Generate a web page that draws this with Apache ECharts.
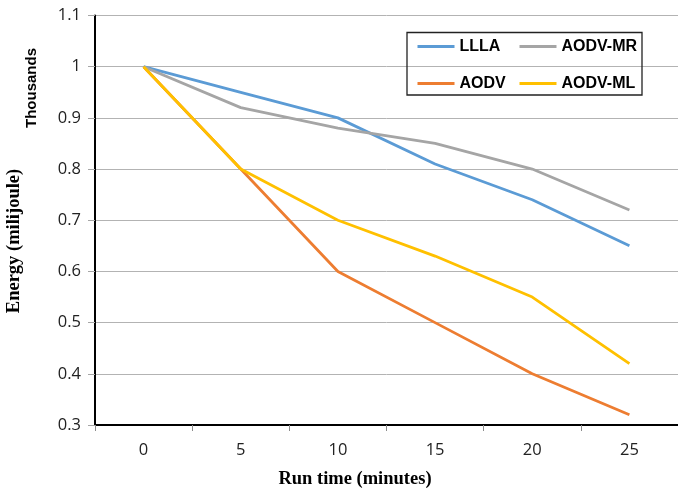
<!DOCTYPE html>
<html>
<head>
<meta charset="utf-8">
<script src="https://cdn.jsdelivr.net/npm/echarts@6/dist/echarts.min.js"></script>
<style>html,body{margin:0;padding:0;background:#fff;}#c{width:678px;height:492px;}</style>
</head>
<body>
<div id="c"></div>
<script>
const categories = ['0', '5', '10', '15', '20', '25'];
const llla = [1.0, 0.95, 0.90, 0.81, 0.74, 0.65];
const aodv = [1.0, 0.80, 0.60, 0.50, 0.40, 0.32];
const aodvMR = [1.0, 0.92, 0.88, 0.85, 0.80, 0.72];
const aodvML = [1.0, 0.80, 0.70, 0.63, 0.55, 0.42];
const yTicks = { min: 0.3, max: 1.1, interval: 0.1 };

const chart = echarts.init(document.getElementById('c'), null, { renderer: 'canvas' });
const mk = (name, data, color) => ({
  name, type: 'line', data, symbol: 'none', showSymbol: false,
  lineStyle: { color, width: 2.8 }, itemStyle: { color }, animation: false
});
const legendText = { fontFamily: 'Liberation Sans', fontWeight: 'bold', fontSize: 16, color: '#000' };
const legendBase = { orient: 'vertical', top: 38.5, itemWidth: 37, itemHeight: 14, itemGap: 21, textStyle: legendText, padding: 0, itemStyle: { opacity: 0 }, lineStyle: { width: 3 } };
chart.setOption({
  animation: false,
  grid: { left: 95, right: -5, top: 15.5, bottom: 67, containLabel: false },
  xAxis: {
    type: 'category', data: categories, boundaryGap: true,
    axisLine: { lineStyle: { color: '#000', width: 2 } },
    axisTick: { show: true, length: 6, lineStyle: { color: '#8c8c8c', width: 1 } },
    axisLabel: { fontFamily: 'Open Sans', fontSize: 16.5, color: '#222', margin: 17 },
    splitLine: { show: false }
  },
  yAxis: {
    type: 'value', min: yTicks.min, max: yTicks.max, interval: yTicks.interval,
    axisLine: { show: true, lineStyle: { color: '#000', width: 2 } },
    axisTick: { show: true, length: 7, lineStyle: { color: '#a6a6a6', width: 1 } },
    axisLabel: { fontFamily: 'Open Sans', fontSize: 16.5, color: '#222', margin: 14,
      formatter: v => String(Math.round(v * 10) / 10) },
    splitLine: { lineStyle: { color: '#b3b3b3', width: 1 } }
  },
  legend: [
    Object.assign({ data: ['LLLA', 'AODV'], left: 416 }, legendBase),
    Object.assign({ data: ['AODV-MR', 'AODV-ML'], left: 518 }, legendBase)
  ],
  graphic: [
    { type: 'rect', shape: { x: 407, y: 32.5, width: 235, height: 62.5 }, style: { fill: 'none', stroke: '#222', lineWidth: 1.3 }, z: 100 },
    { type: 'text', x: 32, y: 88, rotation: Math.PI / 2, style: { text: 'Thousands', fontFamily: 'Liberation Sans', fontWeight: 'bold', fontSize: 15, fill: '#000', align: 'center', verticalAlign: 'middle' } },
    { type: 'text', x: 14, y: 241, rotation: Math.PI / 2, style: { text: 'Energy (milijoule)', fontFamily: 'Liberation Serif', fontWeight: 'bold', fontSize: 18.5, fill: '#000', align: 'center', verticalAlign: 'middle' } },
    { type: 'text', x: 355, y: 479, style: { text: 'Run time (minutes)', fontFamily: 'Liberation Serif', fontWeight: 'bold', fontSize: 18.5, fill: '#000', align: 'center', verticalAlign: 'middle' } }
  ],
  series: [
    mk('LLLA', llla, '#5B9BD5'),
    mk('AODV', aodv, '#ED7D31'),
    mk('AODV-MR', aodvMR, '#A5A5A5'),
    mk('AODV-ML', aodvML, '#FFC000')
  ]
});
</script>
</body>
</html>
